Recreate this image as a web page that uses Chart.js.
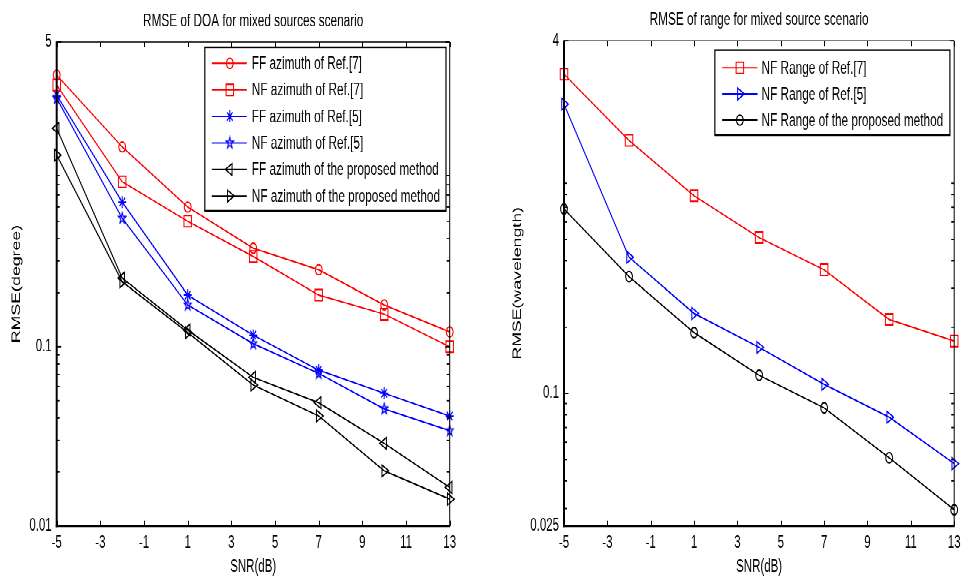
<!DOCTYPE html>
<html><head><meta charset="utf-8">
<script src="https://cdn.jsdelivr.net/npm/chart.js@4.4.1/dist/chart.umd.min.js"></script>
<style>
html,body{margin:0;padding:0;background:#fff;overflow:hidden;width:965px;height:578px;}
#stage{position:absolute;left:0;top:0;width:965px;height:385px;transform:scaleY(1.501299);transform-origin:0 0;}
#c1{position:absolute;left:0;top:0;width:480px;height:385px;}
#c2{position:absolute;left:480px;top:0;width:485px;height:385px;}
</style></head><body>
<div id="stage"><canvas id="c1" width="480" height="385"></canvas><canvas id="c2" width="485" height="385"></canvas></div>
<script>
// ---- data ----
const snr = [-5, -2, 1, 4, 7, 10, 13];
const xTicks = [-5, -3, -1, 1, 3, 5, 7, 9, 11, 13];
const doaTicks = [0.01, 0.1, 5];
const rangeTicks = [0.025, 0.1, 4];

const doaLabels = ['FF azimuth of Ref.[7]', 'NF azimuth of Ref.[7]', 'FF azimuth of Ref.[5]',
  'NF azimuth of Ref.[5]', 'FF azimuth of the proposed method', 'NF azimuth of the proposed method'];
const ffRef7 = [3.27, 1.30, 0.60, 0.354, 0.268, 0.171, 0.121];
const nfRef7 = [2.88, 0.83, 0.50, 0.318, 0.194, 0.152, 0.100];
const ffRef5 = [2.53, 0.64, 0.194, 0.116, 0.074, 0.055, 0.041];
const nfRef5 = [2.43, 0.52, 0.171, 0.104, 0.071, 0.045, 0.034];
const ffProp = [1.65, 0.241, 0.124, 0.0675, 0.0487, 0.0289, 0.0164];
const nfProp = [1.17, 0.230, 0.120, 0.0611, 0.0411, 0.0203, 0.0141];

const rangeLabels = ['NF Range of Ref.[7]', 'NF Range of Ref.[5]', 'NF Range of the proposed method'];
const rangeRef7 = [2.82, 1.41, 0.79, 0.51, 0.364, 0.217, 0.173];
const rangeRef5 = [2.06, 0.415, 0.231, 0.162, 0.110, 0.078, 0.048];
const rangeProp = [0.688, 0.339, 0.189, 0.121, 0.086, 0.051, 0.0296];

// ---- styling ----
const H = 385;
const S = 578 / H;
const FONT = '"Liberation Sans", Arial, Helvetica, sans-serif';
const RED = '#ff0000', BLUE = '#0000ff', BLACK = '#000000';

function makePentagram(color, r) {
  const k = 4, size = Math.ceil(r * 2 + 2);
  const c = document.createElement('canvas');
  c.width = size * k; c.height = size * k;
  const g = c.getContext('2d');
  g.scale(k, k);
  g.beginPath();
  for (let i = 0; i < 10; i++) {
    const ang = -Math.PI / 2 + i * Math.PI / 5;
    const rr = i % 2 === 0 ? r : r * 0.4;
    g.lineTo(size / 2 + rr * Math.cos(ang), size / 2 + rr * Math.sin(ang));
  }
  g.closePath();
  g.strokeStyle = color; g.lineWidth = 1; g.stroke();
  const img = new Image();
  img.width = size; img.height = size;
  img.src = c.toDataURL();
  return img;
}

function ds(label, vals, color, style, radius, rot) {
  return {
    label, data: snr.map((x, i) => ({x, y: vals[i]})),
    borderColor: color, borderWidth: 1, fill: false, tension: 0,
    pointStyle: style, pointRadius: radius, pointHoverRadius: radius, pointRotation: rot || 0,
    pointBorderColor: color, pointBackgroundColor: 'rgba(0,0,0,0)', pointBorderWidth: 1,
    clip: false
  };
}

const axesPlugin = {
  id: 'matlabAxes',
  afterDatasetsDraw(chart, args, o) {
    const {ctx, chartArea: a, scales: {x, y}} = chart;
    ctx.save();
    ctx.strokeStyle = '#000';
    // x tick marks (inward, top & bottom)
    ctx.lineWidth = 1;
    xTicks.forEach(v => {
      const px = Math.round(x.getPixelForValue(v)) + 0.5;
      ctx.beginPath(); ctx.moveTo(px, a.bottom); ctx.lineTo(px, a.bottom - 3.5); ctx.stroke();
      ctx.beginPath(); ctx.moveTo(px, a.top); ctx.lineTo(px, a.top + 3.5); ctx.stroke();
    });
    // y major & minor tick marks
    const ymin = y.min, ymax = y.max;
    const yt = o.yTicks;
    const drawY = (v, len) => {
      const py = y.getPixelForValue(v);
      ctx.beginPath(); ctx.moveTo(a.left, py); ctx.lineTo(a.left + len, py); ctx.stroke();
      ctx.beginPath(); ctx.moveTo(a.right, py); ctx.lineTo(a.right - len, py); ctx.stroke();
    };
    ctx.lineWidth = 0.9;
    yt.forEach(v => drawY(v, 4.5));
    for (let d = Math.floor(Math.log10(ymin)); d < 0; d++) {
      for (let k = 2; k <= 9; k++) {
        const v = k * Math.pow(10, d);
        if (v > ymin * 1.001 && v < ymax && v < 1) drawY(v, 3);
      }
    }
    // box
    ctx.lineWidth = 0.8;
    ctx.beginPath(); ctx.moveTo(a.left, a.top); ctx.lineTo(a.right, a.top); ctx.stroke();
    ctx.lineWidth = 1;
    ctx.beginPath(); ctx.moveTo(a.right, a.top); ctx.lineTo(a.right, a.bottom); ctx.stroke();
    ctx.lineWidth = 2;
    ctx.beginPath(); ctx.moveTo(a.left, a.top - 0.4); ctx.lineTo(a.left, a.bottom + 0.7); ctx.stroke();
    ctx.lineWidth = 1.4;
    ctx.beginPath(); ctx.moveTo(a.left - 1, a.bottom); ctx.lineTo(a.right + 0.5, a.bottom); ctx.stroke();
    ctx.restore();
  }
};

const legendPlugin = {
  id: 'boxLegend',
  afterDatasetsDraw(chart, args, o) {
    const {ctx, chartArea: a} = chart;
    const list = chart.data.datasets;
    ctx.save();
    ctx.font = `${o.fontSize}px ${FONT}`;
    const maxW = Math.max(...list.map(d => ctx.measureText(d.label).width));
    const w = o.textX + maxW + o.padRight;
    const h = o.padTop + o.rowH * (list.length - 1) + o.padBottom;
    const right = a.right - o.gapRight, left = right - w, top = a.top + o.gapTop;
    ctx.fillStyle = '#fff';
    ctx.fillRect(left, top, w, h);
    ctx.lineWidth = 1.2; ctx.strokeStyle = '#000';
    ctx.strokeRect(left, top, w, h);
    list.forEach((d, i) => {
      const cy = top + o.padTop + i * o.rowH;
      ctx.strokeStyle = d.borderColor; ctx.lineWidth = d.borderWidth;
      ctx.beginPath(); ctx.moveTo(left + o.lineX0, cy); ctx.lineTo(left + o.lineX1, cy); ctx.stroke();
      ctx.fillStyle = 'rgba(0,0,0,0)'; ctx.strokeStyle = d.pointBorderColor; ctx.lineWidth = d.pointBorderWidth;
      Chart.helpers.drawPoint(ctx, {pointStyle: d.pointStyle, radius: d.pointRadius,
        rotation: d.pointRotation || 0, borderWidth: d.pointBorderWidth}, left + o.markX, cy);
      ctx.fillStyle = '#000'; ctx.textBaseline = 'middle'; ctx.textAlign = 'left';
      ctx.fillText(d.label, left + o.textX, cy + 0.5);
    });
    ctx.restore();
  }
};

function makeChart(canvas, g) {
  return new Chart(canvas, {
    type: 'line',
    data: {datasets: g.datasets},
    plugins: [axesPlugin, legendPlugin],
    options: {
      responsive: false, animation: false, devicePixelRatio: 2,
      layout: {padding: {left: 0, right: g.padRight, top: 0, bottom: 0}},
      plugins: {
        legend: {display: false}, tooltip: {enabled: false},
        title: {display: true, text: g.title, fullSize: false, color: '#000',
          font: {family: FONT, size: 11.8, weight: 'normal', lineHeight: 1.2},
          padding: {top: g.titleTop, bottom: g.titleBottom}},
        matlabAxes: {yTicks: g.yTicks},
        boxLegend: g.legend
      },
      scales: {
        x: {
          type: 'linear', min: -5, max: 13,
          afterBuildTicks: s => { s.ticks = xTicks.map(v => ({value: v})); },
          afterFit: s => { s.height = H - 526 / S; },
          grid: {display: false, drawTicks: false}, border: {display: false},
          ticks: {autoSkip: false, maxRotation: 0, padding: 4.4, color: '#000',
            font: {family: FONT, size: 11.5}, callback: v => String(v)},
          title: {display: true, text: 'SNR(dB)', color: '#000',
            font: {family: FONT, size: 11.5}, padding: {top: 0, bottom: 0.4}}
        },
        y: {
          type: 'logarithmic', min: g.yMin, max: g.yMax,
          afterBuildTicks: s => { s.ticks = g.yTicks.map(v => ({value: v})); },
          afterFit: s => { s.width = g.yWidth; },
          grid: {display: false, drawTicks: false}, border: {display: false},
          ticks: {autoSkip: false, padding: 5, color: '#000',
            font: {family: FONT, size: 11.5}, callback: v => String(v)},
          title: {display: true, text: g.yTitle, color: '#000',
            font: {family: FONT, size: 11.8}, padding: {top: g.yTitlePad, bottom: 0}}
        }
      }
    }
  });
}

(async function () {
  const star5 = makePentagram(BLUE, 3.8);
  try { await star5.decode(); } catch (e) {}

  makeChart(document.getElementById('c1'), {
    title: 'RMSE of DOA for mixed sources scenario',
    yTitle: 'RMSE(degree)', yMin: 0.01, yMax: 5, yTicks: doaTicks,
    yWidth: 56.7, padRight: 30.3, titleTop: 7, titleBottom: 6.82, yTitlePad: 9.6,
    legend: {fontSize: 11.8, textX: 47, padRight: 6, padTop: 10.7, rowH: 17.68, padBottom: 9.9,
      gapRight: 3.7, gapTop: 3.5, lineX0: 7, lineX1: 42, markX: 25},
    datasets: [
      ds(doaLabels[0], ffRef7, RED, 'circle', 3.4),
      ds(doaLabels[1], nfRef7, RED, 'rect', 5.3),
      ds(doaLabels[2], ffRef5, BLUE, 'star', 4),
      ds(doaLabels[3], nfRef5, BLUE, star5, 4),
      ds(doaLabels[4], ffProp, BLACK, 'triangle', 4.5, -90),
      ds(doaLabels[5], nfProp, BLACK, 'triangle', 4.5, 90)
    ]
  });

  makeChart(document.getElementById('c2'), {
    title: 'RMSE of range for mixed source scenario',
    yTitle: 'RMSE(wavelength)', yMin: 0.025, yMax: 4, yTicks: rangeTicks,
    yWidth: 84, padRight: 8, titleTop: 6.2, titleBottom: 6.75, yTitlePad: 30.9,
    legend: {fontSize: 11.8, textX: 46.7, padRight: 6.7, padTop: 11.8, rowH: 17.45, padBottom: 10,
      gapRight: 4.3, gapTop: 6.2, lineX0: 7.3, lineX1: 42.7, markX: 25},
    datasets: [
      ds(rangeLabels[0], rangeRef7, RED, 'rect', 5.3),
      ds(rangeLabels[1], rangeRef5, BLUE, 'triangle', 4.5, 90),
      ds(rangeLabels[2], rangeProp, BLACK, 'circle', 3.4)
    ]
  });
})();
</script>
</body></html>
